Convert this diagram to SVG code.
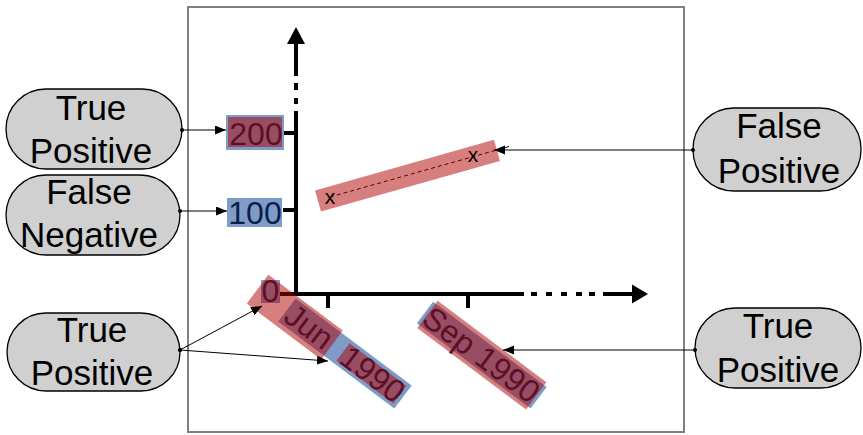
<svg xmlns="http://www.w3.org/2000/svg" width="863" height="435" viewBox="0 0 863 435">
  <defs>
    <style>
      .node rect { fill: #d0d0d0; stroke: #000; stroke-width: 1.3; }
      .node text { font-family: "Liberation Sans", Arial, sans-serif; font-size: 35px; fill: #000; text-anchor: middle; }
      .axis { stroke: #000; stroke-width: 4; fill: none; }
      .lbl-bg { fill: #7f9bc7; }
      .lbl-txt { font-family: "Liberation Sans", Arial, sans-serif; font-size: 32px; fill: #0b1e4c; }
      .hl { fill: #b00000; fill-opacity: 0.5; }
      .mark { font-family: "Liberation Sans", Arial, sans-serif; font-size: 21px; fill: #000; text-anchor: middle; }
      .conn { stroke: #000; stroke-width: 1; fill: none; marker-start: url(#dot); marker-end: url(#arrow); }
    </style>
    <marker id="arrow" markerUnits="userSpaceOnUse" markerWidth="12" markerHeight="10" refX="11" refY="4.5" orient="auto">
      <path d="M0,0 L11,4.5 L0,9 z" fill="#000"/>
    </marker>
    <marker id="dot" markerUnits="userSpaceOnUse" markerWidth="6" markerHeight="6" refX="3" refY="3" orient="auto">
      <circle cx="3" cy="3" r="2" fill="#000"/>
    </marker>
  </defs>

  <!-- chart frame -->
  <rect x="188" y="7" width="496" height="425" fill="none" stroke="#808080" stroke-width="2"/>

  <!-- axes -->
  <g id="axes">
    <path class="axis" d="M296,294 V111 M296,98 V104 M296,83 V90 M296,76 V42"/>
    <path d="M296,27 L305,44 L287,44 z" fill="#000"/>
    <path class="axis" d="M294,294 H524 M531,294 H537 M546,294 H552 M561,294 H567 M576,294 H582 M589,294 H595 M603,294 H634"/>
    <path d="M648,294 L632,284.5 L632,303.5 z" fill="#000"/>
    <!-- ticks -->
    <path class="axis" d="M283,133 H296 M283,210 H296 M279,294 H294 M328,294 V308 M468,294 V308"/>
  </g>

  <!-- tick labels -->
  <g id="label-200">
    <rect class="lbl-bg" x="226" y="115" width="58" height="35"/>
    <text class="lbl-txt" x="256" y="145" text-anchor="middle">200</text>
  </g>
  <g id="label-100">
    <rect class="lbl-bg" x="227" y="198" width="55" height="29"/>
    <text class="lbl-txt" x="255" y="224" text-anchor="middle">100</text>
  </g>
  <g id="label-0">
    <rect class="lbl-bg" x="261" y="280" width="19" height="23"/>
    <text class="lbl-txt" x="270.5" y="302" text-anchor="middle">0</text>
  </g>
  <g id="label-jun" transform="translate(287,310) rotate(36.87)">
    <rect class="lbl-bg" x="0" y="-14.5" width="145" height="29"/>
    <text class="lbl-txt" x="2" y="11" word-spacing="9">Jun 1990</text>
  </g>
  <g id="label-sep" transform="translate(425,312.5) rotate(36.87)">
    <rect class="lbl-bg" x="0" y="-13.5" width="142" height="27"/>
    <text class="lbl-txt" x="2" y="11">Sep 1990</text>
  </g>

  <!-- data segment -->
  <path d="M330,197 L509,146.5" stroke="#000" stroke-width="1" stroke-dasharray="4,3" fill="none"/>

  <!-- highlights -->
  <g id="highlights">
    <rect class="hl" x="228" y="117" width="54" height="30"/>
    <rect class="hl" x="0" y="-11" width="186" height="22" transform="translate(318,201) rotate(-15.8)"/>
    <g transform="translate(287,310) rotate(36.87)">
      <rect class="hl" x="-36" y="-17" width="93" height="36"/>
      <rect class="hl" x="70" y="-11" width="71" height="22"/>
    </g>
    <rect class="hl" x="3" y="-17" width="136" height="34" transform="translate(425,312.5) rotate(36.87)"/>
  </g>

  <!-- point markers -->
  <text class="mark" x="330" y="204">x</text>
  <text class="mark" x="473" y="162">x</text>

  <!-- annotation nodes -->
  <g id="tp-200" class="node">
    <rect x="6" y="89" width="176" height="80" rx="40"/>
    <text x="91" y="120">True</text>
    <text x="91" y="163">Positive</text>
  </g>
  <g id="fn-100" class="node">
    <rect x="6" y="175" width="174" height="80" rx="40"/>
    <text x="89" y="204">False</text>
    <text x="89" y="247">Negative</text>
  </g>
  <g id="tp-jun" class="node">
    <rect x="7" y="313" width="173" height="78" rx="39"/>
    <text x="92" y="342">True</text>
    <text x="92" y="385">Positive</text>
  </g>
  <g id="fp-point" class="node">
    <rect x="693" y="108" width="168" height="83" rx="41"/>
    <text x="779" y="138">False</text>
    <text x="779" y="183">Positive</text>
  </g>
  <g id="tp-sep" class="node">
    <rect x="695" y="308" width="166" height="80" rx="40"/>
    <text x="778" y="338">True</text>
    <text x="778" y="382">Positive</text>
  </g>

  <!-- connectors -->
  <g id="connectors">
    <path class="conn" d="M182,130 L226,130"/>
    <path class="conn" d="M180,211 L227,211"/>
    <path class="conn" d="M180,350 L262,306"/>
    <path class="conn" d="M180,350 L328,361"/>
    <path class="conn" d="M693,150 L494,150"/>
    <path class="conn" d="M695,350 L503,350"/>
  </g>
</svg>
